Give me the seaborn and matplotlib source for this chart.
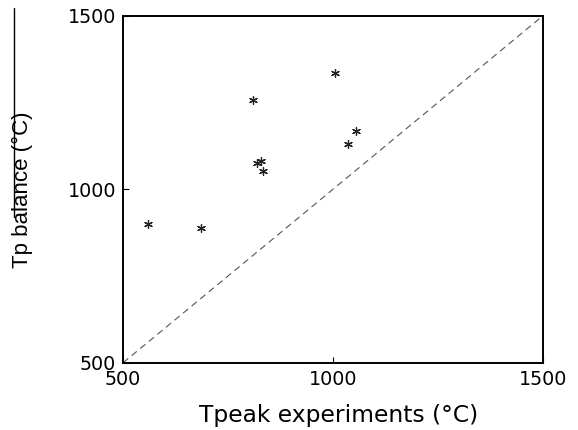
import numpy as np
import pandas as pd
import seaborn as sns
from matplotlib import pyplot as plt
from matplotlib.lines import Line2D

# values
t_peak = [560, 685, 810, 1004, 818, 828, 834, 1037, 1055]
t_balance = [901, 889, 1257, 1335, 1075, 1082, 1053, 1132, 1169]
ticks = [500, 1000, 1500]
diag = [500, 1500]

df = pd.DataFrame({"Tpeak": t_peak, "Tp": t_balance})

sns.set_style("white")
# the reference text looks horizontally stretched, so the wider DejaVu is used for horizontal text
plt.rcParams["font.family"] = ["DejaVu Sans"]
plt.rcParams["text.color"] = "black"
plt.rcParams["xtick.color"] = "black"
plt.rcParams["ytick.color"] = "black"

fig = plt.figure(figsize=(5.78, 4.30), dpi=100)
ax = fig.add_axes([0.213, 0.1565, 0.726, 0.8065])

# 1:1 line
sns.lineplot(x=diag, y=diag, ax=ax, color="#555555", linewidth=0.8,
             linestyle=(0, (6, 4)))

sns.scatterplot(data=df, x="Tpeak", y="Tp", ax=ax, marker=(6, 2, 0),
                s=32, color="#222222", edgecolor="#222222", linewidth=0.9)

ax.set_xlim(500, 1500)
ax.set_ylim(500, 1500)
ax.set_xticks(ticks)
ax.set_yticks(ticks)
ax.tick_params(bottom=True, left=True, direction="in", length=4, width=0.8,
               labelsize=13.8, pad=5, colors="black")
for s in ax.spines.values():
    s.set_color("black")
    s.set_linewidth(1.4)

ax.set_xlabel("Tpeak experiments (°C)", fontsize=16.8, color="black")
ax.xaxis.set_label_coords(0.514, -0.119)
ax.set_ylabel("Tp balance (°C)", fontsize=16, color="black",
              family=["Liberation Sans", "DejaVu Sans"])
ax.yaxis.set_label_coords(-0.215, 0.5)

# thin crop line at the far left of the reference
fig.add_artist(Line2D([0.024, 0.024], [0.495, 0.981], color="black", linewidth=1.0))

fig.savefig("out.png", dpi=100)
